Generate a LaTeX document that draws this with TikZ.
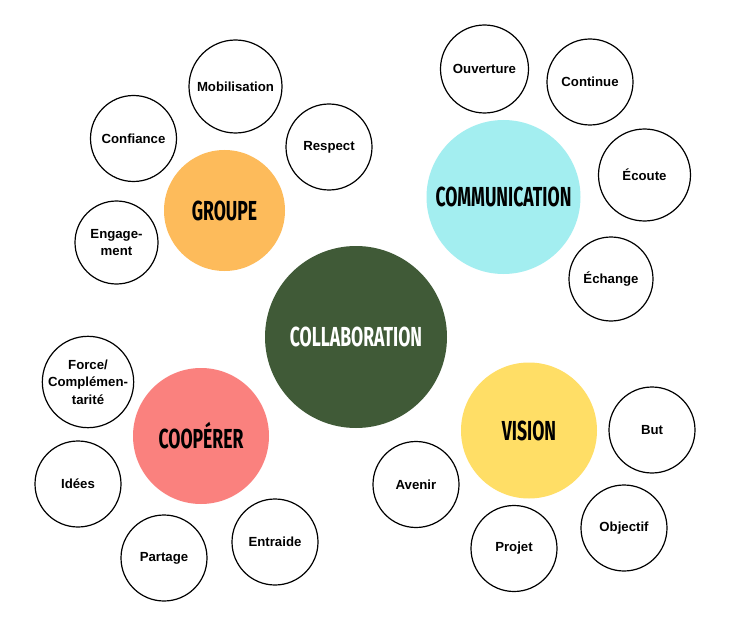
\documentclass[tikz,border=0pt]{standalone}
\usepackage{fontspec}
\setmainfont{Liberation Sans}
\newfontfamily\titlefont[FakeStretch=0.64]{Fira Sans}
\definecolor{collabgreen}{HTML}{405A37}
\definecolor{groupeorange}{HTML}{FDBB5B}
\definecolor{commcyan}{HTML}{A3EEF0}
\definecolor{coopsalmon}{HTML}{FA817E}
\definecolor{visionyellow}{HTML}{FFDE66}
\tikzset{
  hub/.style={circle, inner sep=0pt, draw=none,
    font=\titlefont\bfseries\fontsize{27.5}{30}\selectfont},
  leaf/.style={circle, inner sep=0pt, draw=black, line width=1.2pt, fill=white,
    align=center, font=\bfseries\fontsize{13.2}{17.5}\selectfont},
}
\begin{document}
\begin{tikzpicture}[x=1pt, y=-1pt]
  \useasboundingbox (0,0) rectangle (732,618);
  \fill[white] (0,0) rectangle (732,618);

  % central theme
  \node[hub, fill=collabgreen, text=white, minimum size=182pt] (collab) at (356,337) {COLLABORATION};

  % four sub-themes
  \node[hub, fill=groupeorange, minimum size=121pt] (groupe) at (224.5,210.5) {GROUPE};
  \node[hub, fill=commcyan, minimum size=154pt] (comm) at (503.5,197) {COMMUNICATION};
  \node[hub, fill=coopsalmon, minimum size=136pt] (coop) at (201,436) {COOPÉRER};
  \node[hub, fill=visionyellow, minimum size=136pt] (vision) at (529,430.5) {VISION};

  % group
  \node[leaf, minimum size=93pt] (mobil) at (235.5,86.5) {Mobilisation};
  \node[leaf, minimum size=86pt] (confiance) at (133.5,138.5) {Confiance};
  \node[leaf, minimum size=86pt] (respect) at (329,147) {Respect};
  \node[leaf, minimum size=83pt] (engage) at (116.5,242.5) {\raisebox{-3pt}{\shortstack{Engage-\\[2pt]ment}}};

  % communication
  \node[leaf, minimum size=88pt] (ouverture) at (484.5,69) {Ouverture};
  \node[leaf, minimum size=86pt] (continue) at (590,82) {Continue};
  \node[leaf, minimum size=92pt] (ecoute) at (644.5,175) {Écoute};
  \node[leaf, minimum size=84pt] (echange) at (611,279) {Échange};

  % cooperation
  \node[leaf, minimum size=90pt] (force) at (88,382) {Force/\\Complémen-\\tarité};
  \node[leaf, minimum size=86pt] (idees) at (78,484) {Idées};
  \node[leaf, minimum size=86pt] (partage) at (164,558) {Partage};
  \node[leaf, minimum size=86pt] (entraide) at (275,542) {Entraide};

  % vision
  \node[leaf, minimum size=86pt] (avenir) at (416,484.5) {Avenir};
  \node[leaf, minimum size=86pt] (projet) at (514,548.5) {Projet};
  \node[leaf, minimum size=86pt] (objectif) at (624,528) {Objectif};
  \node[leaf, minimum size=86pt] (but) at (652,430) {But};
\end{tikzpicture}
\end{document}
